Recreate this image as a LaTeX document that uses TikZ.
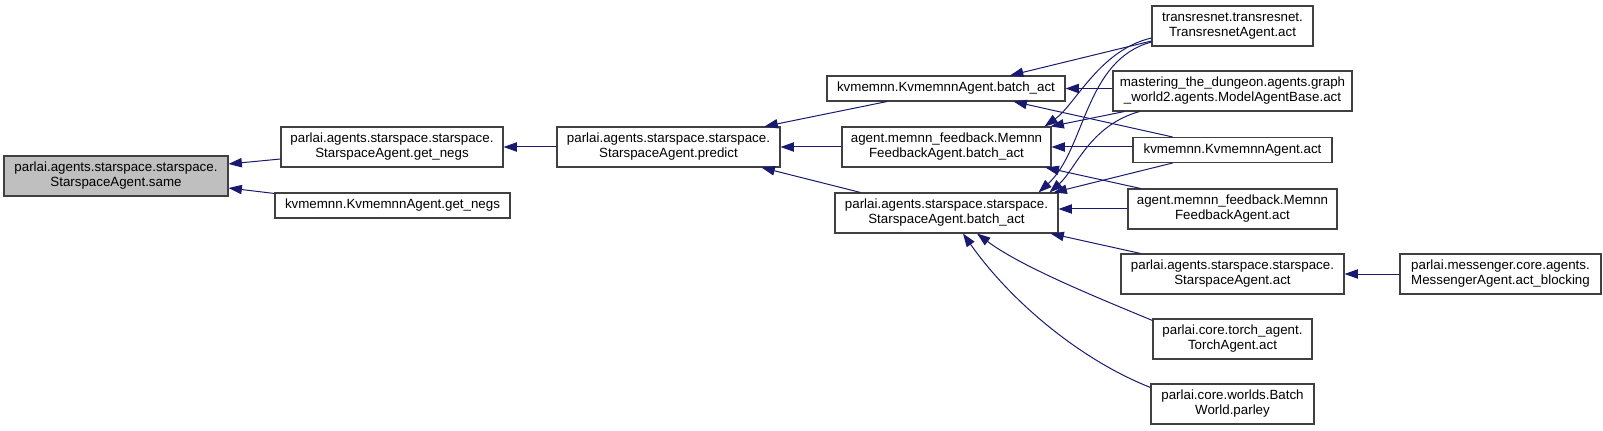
\documentclass[tikz,border=0pt]{standalone}
\usepackage{fontspec}
\setmainfont{Liberation Sans}
\usetikzlibrary{arrows.meta,calc}
\definecolor{edgeblue}{HTML}{191970}
\definecolor{boxline}{HTML}{404040}
\definecolor{curfill}{HTML}{BFBFBF}
\begin{document}
\begin{tikzpicture}[x=0.75pt,y=-0.75pt,
  fn/.style={draw=boxline, line width=0.8pt, fill=white, rectangle, inner sep=0pt,
    align=center, font=\fontsize{10pt}{11.25pt}\selectfont},
  two/.style={minimum height=30pt},
  one/.style={minimum height=18.75pt},
  edge/.style={draw=edgeblue, line width=0.75pt, -{Triangle[length=10pt,width=7pt]}}]
\useasboundingbox (0,0) rectangle (1603,431);

% nodes
\node[fn, two, fill=curfill, minimum width=168pt] (same) at (116,176) {parlai.agents.starspace.starspace.\\StarspaceAgent.same};
\node[fn, two, minimum width=166.5pt] (gnss) at (392,147) {parlai.agents.starspace.starspace.\\StarspaceAgent.get\_negs};
\node[fn, one, minimum width=176.25pt] (gnkv) at (392.5,205.5) {kvmemnn.KvmemnnAgent.get\_negs};
\node[fn, two, minimum width=167.25pt] (predict) at (668.5,147) {parlai.agents.starspace.starspace.\\StarspaceAgent.predict};
\node[fn, one, minimum width=178.5pt] (kvba) at (946,88.5) {kvmemnn.KvmemnnAgent.batch\_act};
\node[fn, two, minimum width=156.75pt] (mfba) at (946.5,147) {agent.memnn\_feedback.Memnn\\FeedbackAgent.batch\_act};
\node[fn, two, minimum width=167.25pt] (ssba) at (946.5,213) {parlai.agents.starspace.starspace.\\StarspaceAgent.batch\_act};
\node[fn, two, minimum width=120.75pt] (trans) at (1232.5,26) {transresnet.transresnet.\\TransresnetAgent.act};
\node[fn, two, minimum width=179.25pt] (mast) at (1232.5,91) {mastering\_the\_dungeon.agents.graph\\\_world2.agents.ModelAgentBase.act};
\node[fn, one, minimum width=149.25pt] (kvact) at (1232.5,150) {kvmemnn.KvmemnnAgent.act};
\node[fn, two, minimum width=156.75pt] (mfact) at (1232.5,209) {agent.memnn\_feedback.Memnn\\FeedbackAgent.act};
\node[fn, two, minimum width=167.25pt] (ssact) at (1232.5,274) {parlai.agents.starspace.starspace.\\StarspaceAgent.act};
\node[fn, two, minimum width=119.25pt] (torch) at (1232.5,339) {parlai.core.torch\_agent.\\TorchAgent.act};
\node[fn, two, minimum width=122.25pt] (bw) at (1232.5,404) {parlai.core.worlds.Batch\\World.parley};
\node[fn, two, minimum width=150.75pt] (msg) at (1500.5,274) {parlai.messenger.core.agents.\\MessengerAgent.act\_blocking};

% edges
\draw[edge] ($(gnss.west)+(0,12)$) -- ($(same.east)+(0,-12)$);
\draw[edge] ($(gnkv.north west)+(0,1)$) -- ($(same.east)+(0,12)$);
\draw[edge] (predict.west) -- (gnss.east);

\draw[edge] ($(kvba.south)+(-59,0)$) -- ($(predict.north)+(96,0)$);
\draw[edge] (mfba.west) -- (predict.east);
\draw[edge] ($(ssba.north)+(-86,0)$) -- ($(predict.south)+(93,0)$);

\draw[edge] ($(trans.west)+(0,15)$) -- ($(kvba.north)+(64,0)$);
\draw[edge] (mast.west |- kvba.east) -- (kvba.east);
\draw[edge] ($(kvact.north)+(-60,0)$) -- ($(kvba.south east)+(-52,0)$);

\draw[edge] ($(trans.west)+(0,12)$) .. controls ($(trans.west)+(-52,24)$) and ($(mfba.north east)+(24,-22)$) .. ($(mfba.north east)+(-7,0)$);
\draw[edge] ($(mast.south west)+(12,0)$) -- ($(mfba.north east)+(-1,0)$);
\draw[edge] (kvact.west |- mfba.east) -- (mfba.east);
\draw[edge] ($(mfact.north)+(-92,0)$) -- ($(mfba.south east)+(-6,0)$);

\draw[edge] ($(trans.west)+(0,16)$) .. controls ($(trans.west)+(-67,34)$) and ($(ssba.north east)+(27,-43)$) .. ($(ssba.north east)+(-20,0)$);
\draw[edge] ($(mast.south west)+(27,0)$) .. controls ($(mast.south west)+(-23,14)$) and ($(ssba.north east)+(17,-23)$) .. ($(ssba.north east)+(-9,0)$);
\draw[edge] ($(kvact.south)+(-60,0)$) -- ($(ssba.north east)+(-5,0)$);
\draw[edge] (mfact.west) -- (ssba.east |- mfact.west);
\draw[edge] ($(ssact.north)+(-92,0)$) -- ($(ssba.south east)+(-8,0)$);
\draw[edge] ($(torch.north west)+(0,2)$) .. controls ($(torch.north west)+(-63,-24)$) and ($(ssba.south)+(73,32)$) .. ($(ssba.south)+(30.5,0)$);
\draw[edge] ($(bw.north west)+(0,4)$) .. controls ($(bw.north west)+(-71,-24)$) and ($(ssba.south)+(63.5,67)$) .. ($(ssba.south)+(16.5,0)$);

\draw[edge] (msg.west) -- (ssact.east);
\end{tikzpicture}
\end{document}
